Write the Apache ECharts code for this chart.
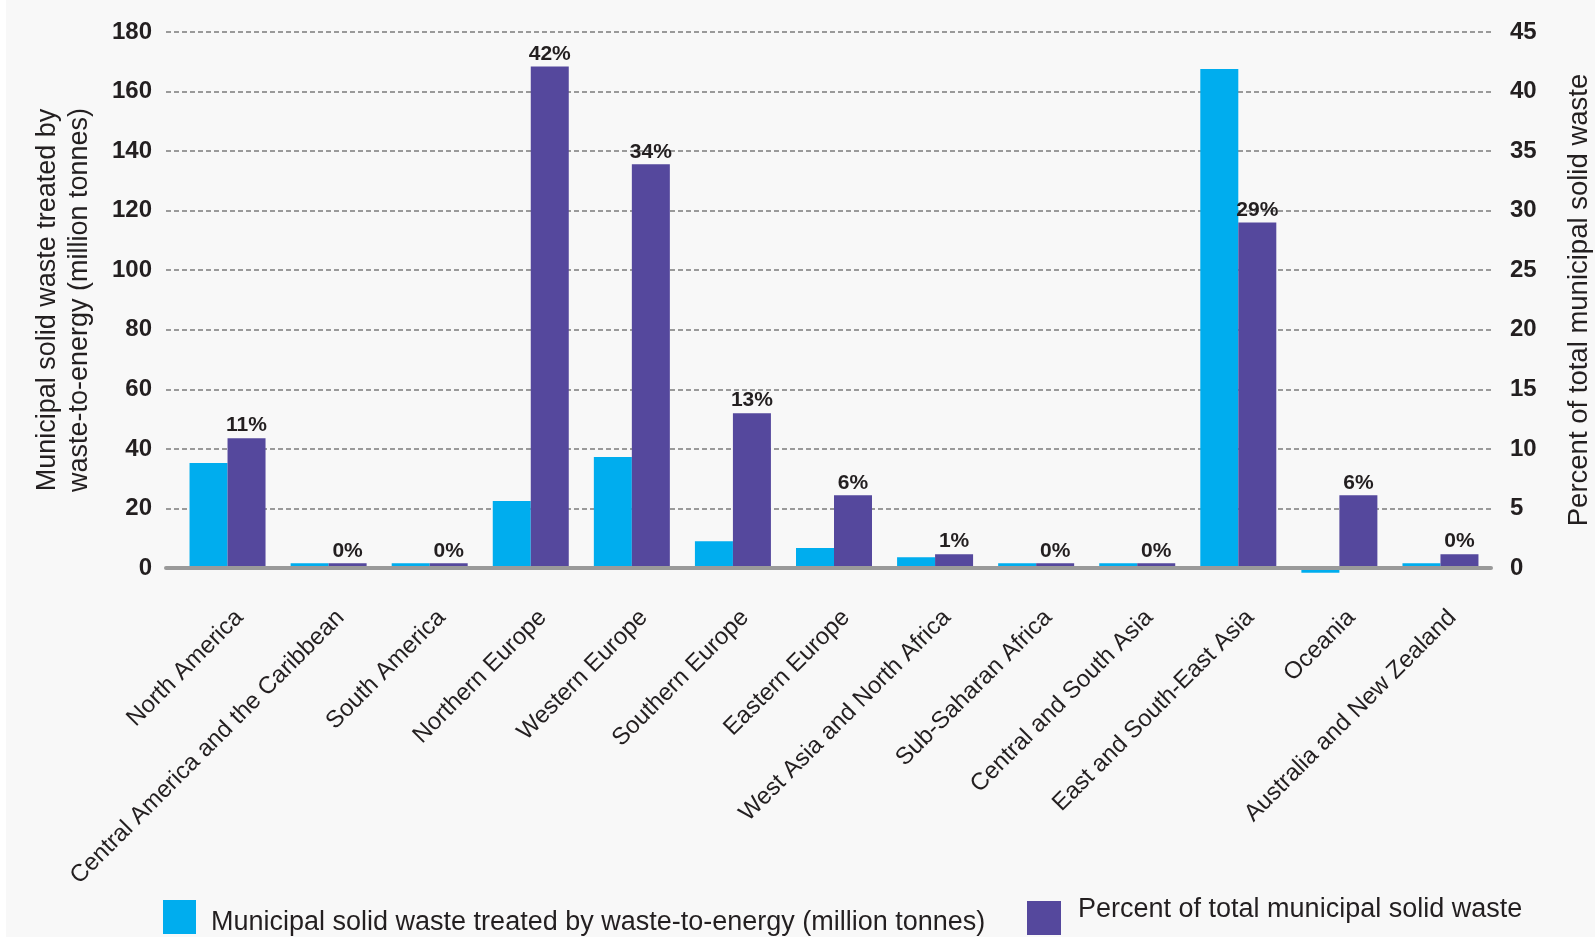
<!DOCTYPE html>
<html>
<head>
<meta charset="utf-8">
<script src="https://cdn.jsdelivr.net/npm/echarts@6/dist/echarts.min.js"></script>
<style>
  html, body { margin: 0; padding: 0; background: #ffffff; }
  #chart { width: 1595px; height: 937px; }
</style>
</head>
<body>
<div id="chart"></div>
<script>
// ---- data ----
const categories = [
  'North America',
  'Central America and the Caribbean',
  'South America',
  'Northern Europe',
  'Western Europe',
  'Southern Europe',
  'Eastern Europe',
  'West Asia and North Africa',
  'Sub-Saharan Africa',
  'Central and South Asia',
  'East and South-East Asia',
  'Oceania',
  'Australia and New Zealand'
];
const wasteMillionTonnes = [35.3, 1.6, 1.6, 22.5, 37.3, 9.0, 6.7, 3.6, 1.6, 1.6, 167.6, -1.6, 1.6];
const percentOfTotal = [10.9, 0.4, 0.4, 42.1, 33.9, 13.0, 6.1, 1.16, 0.4, 0.4, 29.0, 6.1, 1.16];
const percentLabels = ['11%', '0%', '0%', '42%', '34%', '13%', '6%', '1%', '0%', '0%', '29%', '6%', '0%'];
const seriesNames = [
  'Municipal solid waste treated by waste-to-energy (million tonnes)',
  'Percent of total municipal solid waste'
];
const leftAxisName = 'Municipal solid waste treated by\nwaste-to-energy (million tonnes)';
const rightAxisName = 'Percent of total municipal solid waste';
const leftAxisRange = { min: 0, max: 180, interval: 20 };
const rightAxisRange = { min: 0, max: 45, interval: 5 };

// ---- style ----
const FONT = "'Liberation Sans', Arial, sans-serif";
const TEXT = '#231f20';
const BLUE = '#00adee';
const PURPLE = '#55489d';
const GRIDC = '#9a9a9a';
const TOP = 32, BOTTOM = 369;

const hiddenParts = {
  axisLine: { show: false }, axisTick: { show: false },
  axisLabel: { show: false }, splitLine: { show: false }
};
const gridBase = { top: TOP, bottom: BOTTOM, containLabel: false, outerBoundsMode: 'none' };

const chart = echarts.init(document.getElementById('chart'), null, { renderer: 'canvas' });
chart.setOption({
  backgroundColor: '#f8f8f8',
  animation: false,
  textStyle: { fontFamily: FONT, color: TEXT },
  graphic: [{ type: 'rect', left: 0, top: 0, silent: true, shape: { width: 6, height: 937 }, style: { fill: '#ffffff' } }],
  grid: [
    Object.assign({ left: 166, right: 104 }, gridBase),
    Object.assign({ left: 177, right: 104 }, gridBase),
    Object.assign({ left: 189, right: 92 }, gridBase)
  ],
  legend: [
    {
      data: [seriesNames[0]], left: 163, top: 900, icon: 'rect', padding: 0,
      itemWidth: 33, itemHeight: 34,
      formatter: function (name) { return '{t|' + name + '}'; },
      textStyle: {
        fontFamily: FONT, fontSize: 27, color: TEXT,
        rich: { t: { fontFamily: FONT, fontSize: 27, color: TEXT, padding: [12, 0, 0, 10] } }
      }
    },
    {
      data: [seriesNames[1]], left: 1027, top: 896, icon: 'rect', padding: 0,
      itemWidth: 34, itemHeight: 34,
      formatter: function (name) { return '{t|' + name + '}'; },
      textStyle: {
        fontFamily: FONT, fontSize: 27, color: TEXT,
        rich: { t: { fontFamily: FONT, fontSize: 27, color: TEXT, padding: [0, 0, 17, 12] } }
      }
    }
  ],
  xAxis: [
    Object.assign({ gridIndex: 0, type: 'category', data: categories }, hiddenParts,
      { axisLine: { show: true, lineStyle: { color: GRIDC, width: 4 } }, z: 10 }),
    Object.assign({ gridIndex: 1, type: 'category', data: categories }, hiddenParts),
    Object.assign({ gridIndex: 2, type: 'category', data: categories }, hiddenParts, {
      axisLabel: { show: true, rotate: 45, margin: 46, interval: 0, fontFamily: FONT, fontSize: 24, color: TEXT }
    })
  ],
  yAxis: [
    {
      gridIndex: 0, type: 'value', position: 'left',
      min: leftAxisRange.min, max: leftAxisRange.max, interval: leftAxisRange.interval,
      axisLine: { show: false }, axisTick: { show: false },
      axisLabel: { margin: 14, fontFamily: FONT, fontSize: 24, fontWeight: 'bold', color: TEXT },
      splitLine: { show: true, lineStyle: { color: GRIDC, width: 2, type: [5, 3] } },
      name: leftAxisName, nameLocation: 'middle', nameRotate: 90, nameGap: 70,
      nameTextStyle: { fontFamily: FONT, fontSize: 27, color: TEXT, lineHeight: 32 }
    },
    {
      gridIndex: 0, type: 'value', position: 'right',
      min: rightAxisRange.min, max: rightAxisRange.max, interval: rightAxisRange.interval,
      axisLine: { show: false }, axisTick: { show: false },
      axisLabel: { margin: 19, fontFamily: FONT, fontSize: 24, fontWeight: 'bold', color: TEXT },
      splitLine: { show: false },
      name: rightAxisName, nameLocation: 'middle', nameRotate: 90, nameGap: 74,
      nameTextStyle: { fontFamily: FONT, fontSize: 27.5, color: TEXT }
    },
    Object.assign({ gridIndex: 1, type: 'value', position: 'left', min: leftAxisRange.min, max: leftAxisRange.max, interval: leftAxisRange.interval }, hiddenParts),
    Object.assign({ gridIndex: 1, type: 'value', position: 'right', min: rightAxisRange.min, max: rightAxisRange.max, interval: rightAxisRange.interval }, hiddenParts),
    Object.assign({ gridIndex: 2, type: 'value', position: 'left', min: leftAxisRange.min, max: leftAxisRange.max, interval: leftAxisRange.interval }, hiddenParts)
  ],
  series: [
    {
      name: seriesNames[0], type: 'bar', xAxisIndex: 1, yAxisIndex: 2,
      data: wasteMillionTonnes, barWidth: 38, barGap: '0%', clip: false, z: 1,
      itemStyle: { color: BLUE }
    },
    {
      name: seriesNames[1], type: 'bar', xAxisIndex: 1, yAxisIndex: 3,
      data: percentOfTotal, barWidth: 38, barGap: '0%', clip: false, z: 1,
      itemStyle: { color: PURPLE },
      label: {
        show: true, position: 'top', distance: 2,
        fontFamily: FONT, fontSize: 21, fontWeight: 'bold', color: TEXT,
        formatter: function (p) { return percentLabels[p.dataIndex]; }
      }
    }
  ]
});
</script>
</body>
</html>
